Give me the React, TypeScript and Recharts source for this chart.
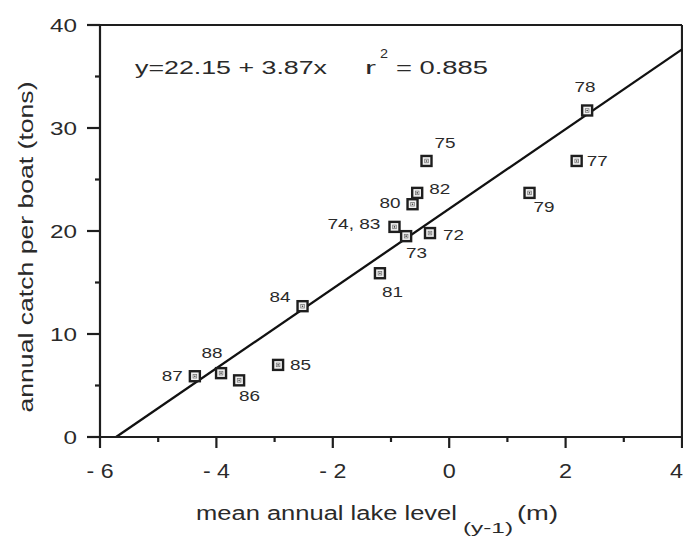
import React from 'react';
import { ScatterChart, Scatter, XAxis, YAxis, ReferenceLine, Customized } from 'recharts';

// ---- data ----
const yearLabels = ['72', '73', '74, 83', '75', '77', '78', '79', '80', '81', '82', '84', '85', '86', '87', '88'];
const lakeLevel = [-0.33, -0.74, -0.94, -0.39, 2.19, 2.37, 1.38, -0.63, -1.19, -0.55, -2.52, -2.94, -3.61, -4.37, -3.92];
const catchPerBoat = [19.8, 19.5, 20.4, 26.8, 26.8, 31.7, 23.7, 22.6, 15.9, 23.7, 12.7, 7.0, 5.5, 5.9, 6.2];

const xTicks = [-6, -5, -4, -3, -2, -1, 0, 1, 2, 3, 4];
const xMajorTicks = [-6, -4, -2, 0, 2, 4];
const xMajorLabels = ['- 6', '- 4', '- 2', '0', '2', '4'];
const yTicks = [0, 5, 10, 15, 20, 25, 30, 35, 40];
const yMajorTicks = [0, 10, 20, 30, 40];
const yMajorLabels = ['0', '10', '20', '30', '40'];

const intercept = 22.15;
const slope = 3.87;
const rSquared = '0.885';

// ---- label placement (style, not data) ----
const labelPlacement: Record<string, { anchor: 'start' | 'middle' | 'end'; dx: number; dy: number }> = {
  '72': { anchor: 'start', dx: 13, dy: 7 },
  '73': { anchor: 'start', dx: 0, dy: 22 },
  '74, 83': { anchor: 'end', dx: -14, dy: 2 },
  '75': { anchor: 'start', dx: 8, dy: -13 },
  '77': { anchor: 'start', dx: 10, dy: 5 },
  '78': { anchor: 'middle', dx: -2, dy: -18 },
  '79': { anchor: 'start', dx: 4, dy: 19 },
  '80': { anchor: 'end', dx: -12, dy: 4 },
  '81': { anchor: 'start', dx: 2, dy: 24 },
  '82': { anchor: 'start', dx: 12, dy: 1 },
  '84': { anchor: 'end', dx: -12, dy: -4 },
  '85': { anchor: 'start', dx: 12, dy: 5 },
  '86': { anchor: 'start', dx: 0, dy: 21 },
  '87': { anchor: 'end', dx: -12, dy: 5 },
  '88': { anchor: 'middle', dx: -9, dy: -15 },
};

const points = yearLabels.map((year, i) => ({ year, x: lakeLevel[i], y: catchPerBoat[i] }));

const FONT = '"Liberation Sans", Arial, Helvetica, sans-serif';
const INK = '#1e1e1e';
const TEXT = '#2a2a2a';

const xStart = -intercept / slope;
const xEnd = 4;
const regressionSegment = [
  { x: xStart, y: 0 },
  { x: xEnd, y: intercept + slope * xEnd },
];

const XTick = (props: any) => {
  const { x, y, payload } = props;
  const v = payload.value;
  const idx = xMajorTicks.indexOf(v);
  const major = idx >= 0;
  const label = major ? xMajorLabels[idx] : '';
  const isLast = idx === xMajorTicks.length - 1;
  return (
    <g>
      <line x1={x} x2={x} y1={y} y2={y + (major ? 11 : 5)} stroke={INK} strokeWidth={2.2} />
      {major && (
        <text
          x={isLast ? x + 1 : x}
          y={y + 41}
          textAnchor={isLast ? 'end' : 'middle'}
          fontFamily={FONT}
          fontSize={20}
          fill={TEXT}
          textLength={label.length > 1 ? 27 : 13}
          lengthAdjust="spacingAndGlyphs"
        >
          {label}
        </text>
      )}
    </g>
  );
};

const YTick = (props: any) => {
  const { x, y, payload } = props;
  const v = payload.value;
  const idx = yMajorTicks.indexOf(v);
  const major = idx >= 0;
  const label = major ? yMajorLabels[idx] : '';
  return (
    <g>
      <line x1={x - (major ? 13 : 5)} x2={x} y1={y} y2={y} stroke={INK} strokeWidth={2.2} />
      {major && (
        <text
          x={x - 23}
          y={y + 7}
          textAnchor="end"
          fontFamily={FONT}
          fontSize={19}
          fill={TEXT}
          textLength={label.length * 13.5}
          lengthAdjust="spacingAndGlyphs"
        >
          {label}
        </text>
      )}
    </g>
  );
};

const PointShape = (props: any) => {
  const { cx, cy, payload } = props;
  const p = labelPlacement[payload.year] || { anchor: 'start', dx: 10, dy: 5 };
  const chars = payload.year.length;
  return (
    <g>
      <rect x={cx - 5} y={cy - 5} width={10} height={10} fill="#f2f2f2" stroke={INK} strokeWidth={2.4} />
      <rect x={cx - 1.8} y={cy - 1.8} width={3.6} height={3.6} fill="none" stroke="#777" strokeWidth={0.8} />
      <circle cx={cx} cy={cy} r={0.8} fill="#333" />
      <text
        x={cx + p.dx}
        y={cy + p.dy}
        textAnchor={p.anchor}
        fontFamily={FONT}
        fontSize={15}
        fill={TEXT}
        textLength={chars === 2 ? 21 : 53}
        lengthAdjust="spacingAndGlyphs"
      >
        {payload.year}
      </text>
    </g>
  );
};

const Annotations = () => (
  <g fontFamily={FONT} fill={TEXT}>
    <text x={135} y={74} fontSize={18} textLength={192} lengthAdjust="spacingAndGlyphs">
      {`y=${intercept.toFixed(2)} + ${slope.toFixed(2)}x`}
    </text>
    <text x={365} y={74} fontSize={18} textLength={11} lengthAdjust="spacingAndGlyphs">r</text>
    <text x={380} y={58} fontSize={13} textLength={8} lengthAdjust="spacingAndGlyphs">2</text>
    <text x={396} y={74} fontSize={18} textLength={92} lengthAdjust="spacingAndGlyphs">{`= ${rSquared}`}</text>

    <text x={196} y={520} fontSize={20} textLength={261} lengthAdjust="spacingAndGlyphs">
      mean annual lake level
    </text>
    <text x={463} y={533} fontSize={15} textLength={50} lengthAdjust="spacingAndGlyphs">(y-1)</text>
    <text x={517} y={520} fontSize={20} textLength={41} lengthAdjust="spacingAndGlyphs">(m)</text>

    <text
      x={0}
      y={0}
      fontSize={20}
      textAnchor="middle"
      transform="translate(33,247) rotate(-90)"
      textLength={331}
      lengthAdjust="spacingAndGlyphs"
    >
      annual catch per boat (tons)
    </text>
  </g>
);

export default function App() {
  return (
    <div style={{ position: 'absolute', left: 0, top: 0, width: 683, height: 536, background: '#fff' }}>
      <ScatterChart width={683} height={536} margin={{ top: 25, right: 1, bottom: 0, left: 0 }}>
        <XAxis
          dataKey="x"
          type="number"
          domain={[-6, 4]}
          ticks={xTicks}
          interval={0}
          tick={<XTick />}
          tickLine={false}
          tickSize={0}
          tickMargin={0}
          height={99}
          axisLine={{ stroke: INK, strokeWidth: 2.2 }}
          allowDataOverflow
        />
        <YAxis
          dataKey="y"
          type="number"
          domain={[0, 40]}
          ticks={yTicks}
          interval={0}
          tick={<YTick />}
          tickLine={false}
          tickSize={0}
          tickMargin={0}
          width={100}
          axisLine={{ stroke: INK, strokeWidth: 2.2 }}
          allowDataOverflow
        />
        <ReferenceLine y={40} stroke={INK} strokeWidth={2.2} />
        <ReferenceLine x={4} stroke={INK} strokeWidth={2.2} />
        <ReferenceLine segment={regressionSegment} stroke="#111" strokeWidth={2.3} />
        <Scatter data={points} shape={<PointShape />} isAnimationActive={false} />
        <Customized component={Annotations} />
      </ScatterChart>
    </div>
  );
}
